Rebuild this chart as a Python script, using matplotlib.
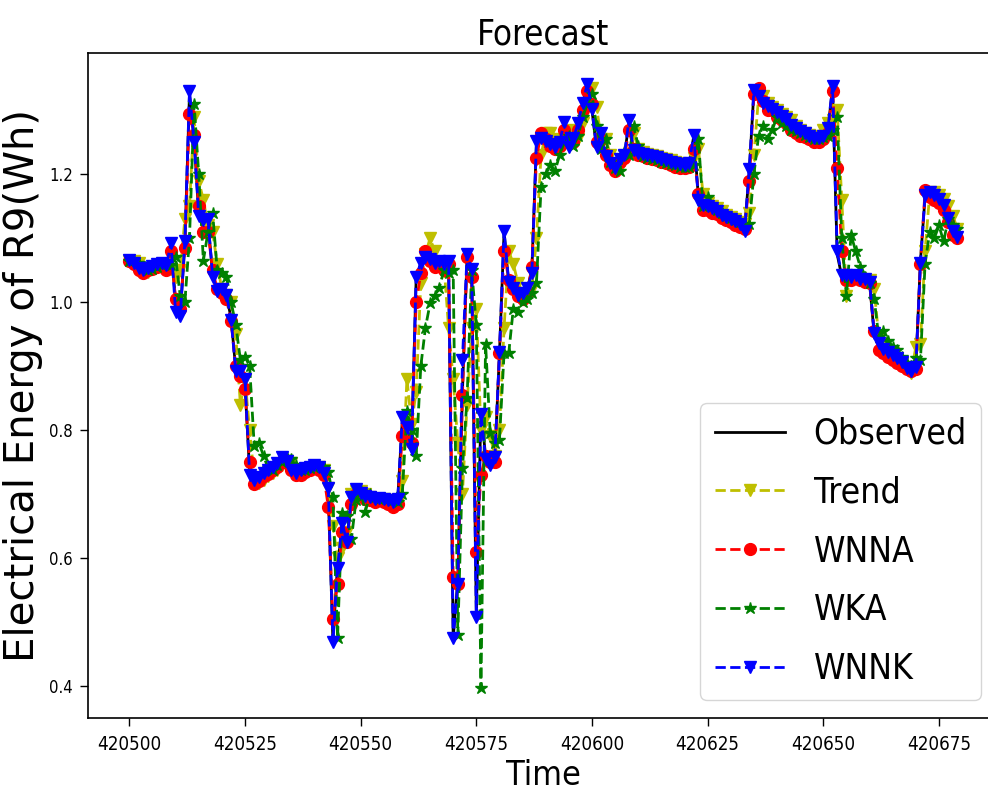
import numpy as np
import matplotlib
matplotlib.use('Agg')
import matplotlib.pyplot as plt

# hourly index of the forecast window
t_start = 420500
time = list(range(t_start, t_start + 180))

observed = [
    1.065, 1.063, 1.055, 1.050, 1.052, 1.055, 1.058, 1.060, 1.055, 1.090,
    1.000, 0.982, 1.090, 1.326, 1.255, 1.140, 1.130, 1.125, 1.045, 1.015,
    1.018, 1.010, 0.975, 0.895, 0.890, 0.870, 0.735, 0.720, 0.725, 0.730,
    0.735, 0.740, 0.745, 0.755, 0.750, 0.740, 0.735, 0.735, 0.738, 0.740,
    0.742, 0.740, 0.735, 0.705, 0.470, 0.588, 0.650, 0.630, 0.690, 0.705,
    0.700, 0.695, 0.693, 0.690, 0.692, 0.690, 0.688, 0.685, 0.690, 0.815,
    0.800, 0.775, 1.038, 1.060, 1.068, 1.065, 1.060, 1.062, 1.058, 1.062,
    0.475, 0.565, 0.860, 1.072, 1.050, 0.512, 0.830, 0.760, 0.745, 0.755,
    0.920, 1.110, 1.030, 1.020, 1.010, 1.012, 1.020, 1.050, 1.250, 1.255,
    1.250, 1.245, 1.240, 1.248, 1.280, 1.240, 1.255, 1.278, 1.310, 1.340,
    1.300, 1.240, 1.262, 1.225, 1.215, 1.208, 1.222, 1.228, 1.282, 1.235,
    1.232, 1.230, 1.228, 1.226, 1.225, 1.222, 1.220, 1.218, 1.215, 1.214,
    1.213, 1.215, 1.260, 1.165, 1.150, 1.148, 1.145, 1.140, 1.135, 1.132,
    1.128, 1.125, 1.120, 1.115, 1.205, 1.330, 1.320, 1.310, 1.305, 1.300,
    1.295, 1.290, 1.285, 1.275, 1.270, 1.265, 1.262, 1.258, 1.255, 1.255,
    1.258, 1.270, 1.335, 1.075, 1.040, 1.040, 1.038, 1.040, 1.035, 1.035,
    1.030, 0.950, 0.935, 0.925, 0.920, 0.915, 0.910, 0.905, 0.895, 0.890,
    0.900, 1.065, 1.165, 1.170, 1.165, 1.160, 1.150, 1.130, 1.110, 1.100,
]

trend = [
    1.065, 1.065, 1.062, 1.052, 1.048, 1.053, 1.057, 1.060, 1.060, 1.052,
    1.040, 1.050, 1.130, 1.150, 1.290, 1.190, 1.160, 1.120, 1.110, 1.060,
    1.020, 1.012, 1.000, 0.950, 0.840, 0.880, 0.800, 0.725, 0.718, 0.722,
    0.728, 0.733, 0.738, 0.745, 0.752, 0.748, 0.738, 0.732, 0.735, 0.738,
    0.740, 0.742, 0.738, 0.710, 0.650, 0.600, 0.615, 0.640, 0.700, 0.705,
    0.705, 0.700, 0.695, 0.692, 0.690, 0.692, 0.690, 0.688, 0.686, 0.720,
    0.880, 0.810, 0.860, 1.030, 1.075, 1.100, 1.080, 1.062, 1.060, 0.960,
    0.880, 0.780, 0.700, 0.840, 0.960, 0.990, 0.800, 0.820, 0.790, 0.760,
    0.800, 0.960, 1.080, 1.060, 1.030, 1.015, 1.010, 1.020, 1.100, 1.230,
    1.265, 1.265, 1.255, 1.245, 1.250, 1.270, 1.250, 1.255, 1.280, 1.305,
    1.335, 1.305, 1.255, 1.255, 1.230, 1.215, 1.210, 1.222, 1.232, 1.265,
    1.240, 1.235, 1.232, 1.230, 1.228, 1.226, 1.224, 1.222, 1.220, 1.218,
    1.216, 1.215, 1.225, 1.240, 1.170, 1.155, 1.150, 1.147, 1.142, 1.137,
    1.133, 1.130, 1.126, 1.122, 1.140, 1.230, 1.320, 1.322, 1.312, 1.305,
    1.300, 1.295, 1.290, 1.285, 1.275, 1.270, 1.265, 1.262, 1.260, 1.258,
    1.270, 1.280, 1.285, 1.300, 1.160, 1.010, 1.040, 1.040, 1.038, 1.035,
    1.035, 1.020, 0.945, 0.930, 0.925, 0.920, 0.912, 0.905, 0.898, 0.890,
    0.930, 0.935, 1.080, 1.170, 1.172, 1.168, 1.162, 1.150, 1.135, 1.115,
]

wnna = [
    1.065, 1.060, 1.050, 1.045, 1.050, 1.052, 1.055, 1.058, 1.050, 1.080,
    1.005, 0.990, 1.085, 1.295, 1.262, 1.150, 1.110, 1.110, 1.050, 1.020,
    1.015, 1.005, 0.970, 0.900, 0.885, 0.865, 0.750, 0.715, 0.720, 0.728,
    0.732, 0.738, 0.742, 0.752, 0.748, 0.738, 0.730, 0.730, 0.735, 0.738,
    0.740, 0.738, 0.730, 0.680, 0.505, 0.560, 0.640, 0.625, 0.685, 0.700,
    0.698, 0.692, 0.690, 0.688, 0.690, 0.688, 0.685, 0.680, 0.685, 0.790,
    0.810, 0.780, 1.000, 1.045, 1.080, 1.065, 1.055, 1.060, 1.050, 1.060,
    0.570, 0.560, 0.855, 1.070, 1.040, 0.610, 0.730, 0.760, 0.750, 0.750,
    0.920, 1.080, 1.035, 1.020, 1.010, 1.005, 1.015, 1.055, 1.225, 1.265,
    1.255, 1.245, 1.240, 1.245, 1.270, 1.250, 1.250, 1.270, 1.300, 1.330,
    1.310, 1.250, 1.255, 1.230, 1.215, 1.205, 1.220, 1.225, 1.270, 1.240,
    1.230, 1.228, 1.226, 1.224, 1.222, 1.220, 1.218, 1.215, 1.212, 1.210,
    1.210, 1.212, 1.240, 1.170, 1.145, 1.145, 1.140, 1.138, 1.132, 1.128,
    1.125, 1.120, 1.118, 1.115, 1.190, 1.325, 1.335, 1.315, 1.300, 1.300,
    1.290, 1.285, 1.280, 1.270, 1.265, 1.260, 1.258, 1.255, 1.250, 1.250,
    1.255, 1.265, 1.330, 1.210, 1.080, 1.035, 1.035, 1.038, 1.035, 1.032,
    1.030, 0.955, 0.925, 0.920, 0.915, 0.910, 0.905, 0.900, 0.895, 0.892,
    0.895, 1.060, 1.175, 1.165, 1.160, 1.155, 1.145, 1.125, 1.105, 1.100,
]

wka = [
    1.065, 1.066, 1.062, 1.055, 1.050, 1.052, 1.055, 1.058, 1.060, 1.058,
    1.070, 1.010, 1.000, 1.100, 1.310, 1.200, 1.065, 1.110, 1.140, 1.050,
    1.045, 1.040, 1.000, 0.965, 0.910, 0.915, 0.900, 0.775, 0.780, 0.760,
    0.740, 0.738, 0.745, 0.750, 0.758, 0.755, 0.745, 0.738, 0.738, 0.740,
    0.742, 0.745, 0.742, 0.735, 0.696, 0.475, 0.670, 0.665, 0.630, 0.690,
    0.705, 0.672, 0.700, 0.695, 0.692, 0.694, 0.692, 0.690, 0.688, 0.700,
    0.830, 0.800, 0.760, 0.900, 0.960, 0.998, 1.010, 1.023, 1.050, 1.045,
    1.050, 0.480, 0.740, 0.850, 1.050, 0.965, 0.397, 0.935, 0.795, 0.780,
    0.785, 0.920, 0.920, 0.990, 0.985, 1.000, 1.005, 1.015, 1.030, 1.180,
    1.200, 1.215, 1.205, 1.230, 1.250, 1.260, 1.245, 1.260, 1.290, 1.310,
    1.325, 1.275, 1.240, 1.255, 1.220, 1.210, 1.205, 1.235, 1.230, 1.275,
    1.245, 1.228, 1.226, 1.224, 1.222, 1.220, 1.218, 1.216, 1.214, 1.212,
    1.212, 1.212, 1.215, 1.255, 1.150, 1.165, 1.150, 1.145, 1.140, 1.135,
    1.132, 1.128, 1.125, 1.120, 1.122, 1.200, 1.260, 1.275, 1.255, 1.270,
    1.290, 1.280, 1.275, 1.270, 1.268, 1.265, 1.262, 1.258, 1.255, 1.255,
    1.258, 1.260, 1.270, 1.290, 1.100, 1.010, 1.105, 1.080, 1.055, 1.040,
    1.030, 1.005, 0.945, 0.955, 0.940, 0.930, 0.925, 0.915, 0.905, 0.900,
    0.912, 0.910, 1.060, 1.110, 1.100, 1.120, 1.095, 1.130, 1.120, 1.115,
]

wnnk = [
    1.066, 1.062, 1.054, 1.051, 1.053, 1.056, 1.059, 1.061, 1.058, 1.092,
    0.985, 0.978, 1.095, 1.330, 1.250, 1.135, 1.128, 1.130, 1.040, 1.018,
    1.020, 1.012, 0.972, 0.893, 0.892, 0.880, 0.730, 0.722, 0.727, 0.733,
    0.737, 0.742, 0.748, 0.758, 0.752, 0.738, 0.733, 0.737, 0.740, 0.742,
    0.745, 0.742, 0.733, 0.710, 0.468, 0.585, 0.655, 0.625, 0.695, 0.708,
    0.702, 0.697, 0.695, 0.692, 0.694, 0.692, 0.690, 0.688, 0.692, 0.820,
    0.805, 0.770, 1.040, 1.062, 1.070, 1.068, 1.062, 1.064, 1.060, 1.065,
    0.475, 0.560, 0.910, 1.075, 1.052, 0.508, 0.825, 0.755, 0.745, 0.758,
    0.922, 1.112, 1.032, 1.022, 1.012, 1.015, 1.022, 1.045, 1.252, 1.257,
    1.252, 1.247, 1.242, 1.250, 1.282, 1.242, 1.257, 1.280, 1.312, 1.342,
    1.302, 1.242, 1.265, 1.228, 1.217, 1.210, 1.224, 1.230, 1.285, 1.238,
    1.234, 1.232, 1.230, 1.228, 1.227, 1.224, 1.222, 1.220, 1.217, 1.216,
    1.215, 1.217, 1.262, 1.160, 1.152, 1.150, 1.147, 1.142, 1.137, 1.134,
    1.130, 1.127, 1.122, 1.112, 1.208, 1.332, 1.322, 1.312, 1.307, 1.302,
    1.297, 1.292, 1.287, 1.277, 1.272, 1.267, 1.264, 1.260, 1.257, 1.257,
    1.260, 1.272, 1.338, 1.080, 1.042, 1.042, 1.040, 1.042, 1.037, 1.037,
    1.032, 0.952, 0.937, 0.927, 0.922, 0.917, 0.912, 0.907, 0.897, 0.892,
    0.898, 1.062, 1.168, 1.172, 1.167, 1.162, 1.152, 1.132, 1.112, 1.102,
]

x_ticks = [420500, 420525, 420550, 420575, 420600, 420625, 420650, 420675]
y_ticks = [0.4, 0.6, 0.8, 1.0, 1.2]

# narrow face for the horizontal texts
plt.rcParams['font.family'] = 'DejaVu Sans'
plt.rcParams['font.stretch'] = 'condensed'

fig = plt.figure(figsize=(9.88, 7.96), dpi=100)
# right edge of the axes runs a little past the canvas
ax = fig.add_axes([0.089, 0.098, 0.922, 0.835])

ax.plot(time, observed, 'k-', lw=2, label='Observed')
ax.plot(time, trend, 'y--v', lw=2, ms=9, label='Trend')
ax.plot(time, wnna, 'r--o', lw=2, ms=8.5, label='WNNA')
ax.plot(time, wka, 'g--*', lw=2, ms=9, label='WKA')
ax.plot(time, wnnk, 'b--v', lw=2, ms=9, label='WNNK')

ax.ticklabel_format(useOffset=False)
ax.set_xticks(x_ticks)
ax.set_yticks(y_ticks)
ax.tick_params(axis='x', labelsize=13.5, length=6, width=1, pad=6)
ax.tick_params(axis='y', labelsize=12, length=6, width=1, pad=5)
for sp in ax.spines.values():
    sp.set_linewidth(1.2)

ax.set_title('Forecast', fontsize=25)
ax.set_xlabel('Time', fontsize=24.5, labelpad=4)
ax.set_ylabel('Electrical Energy of R9(Wh)', fontsize=29,
              fontstretch='normal', labelpad=4)

ax.legend(loc='lower right', fontsize=25.5, handlelength=2,
          labelspacing=0.7, borderaxespad=0.5)

plt.savefig('out.png', dpi=100)
